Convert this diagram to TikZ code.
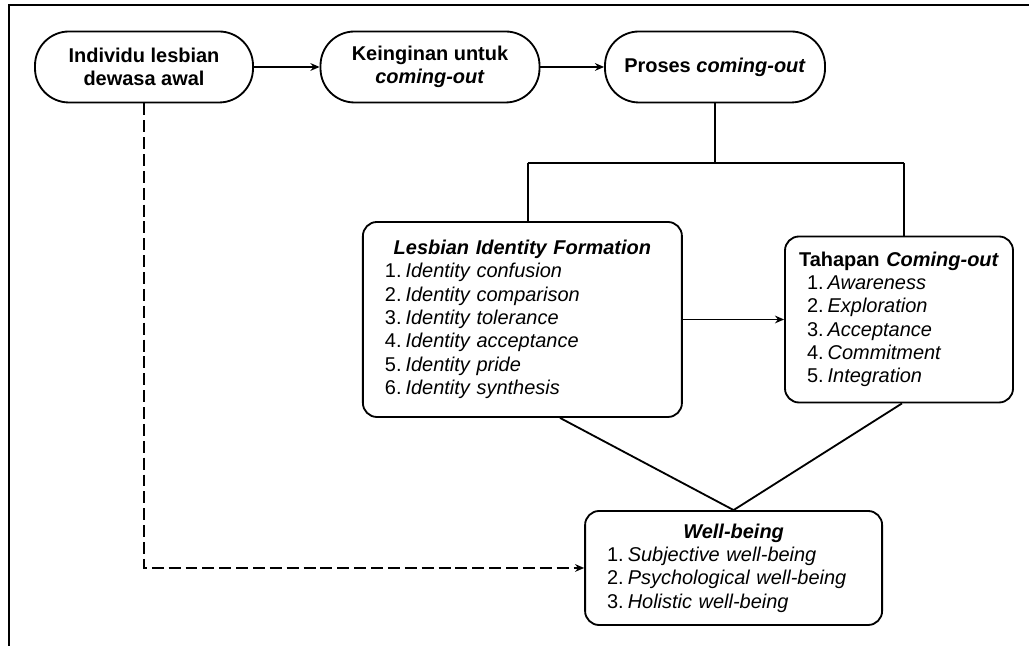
\documentclass[tikz,border=0pt]{standalone}
\usepackage{fontspec}
\setmainfont{Liberation Sans}
\usetikzlibrary{arrows.meta,positioning,calc}

\tikzset{
  pill/.style={draw, line width=1.3pt, rounded corners=0.85cm, minimum width=5.45cm,
    minimum height=1.775cm, align=center, font=\fontsize{14.2}{16.6}\selectfont\bfseries},
  listbox/.style={draw, line width=1.3pt, rounded corners=0.35cm, inner xsep=0.55cm,
    align=left, font=\fontsize{14.2}{16.6}\selectfont},
  arr/.style={line width=1.3pt, -{Stealth[length=6.5pt,width=5.5pt]}},
  link/.style={line width=1.3pt},
}
\newcommand{\stage}[2]{#1.\hspace{0.2em}\textit{#2}}
\newcommand{\boxtitle}[1]{\makebox[\linewidth]{\bfseries #1}\par}

\begin{document}
\begin{tikzpicture}
        \useasboundingbox (0,0) rectangle (25.725,16.15);
        % frame
        \draw[line width=2pt] (0.225,0) -- (0.225,16.025) -- (25.725,16.025);

        % top row
        \node[pill] (indiv) at (3.6,14.475) {Individu lesbian\\dewasa awal};
        \node[pill, minimum width=5.475cm] (keinginan) at (10.75,14.475) {Keinginan untuk\\\textit{coming-out}};
        \node[pill, minimum width=5.5cm] (proses) at (17.875,14.475) {Proses \textit{coming-out}};

        % stage boxes
        \node[listbox, text width=6.875cm, minimum height=4.875cm] (lif) at (13.06,8.1625) {%
          \boxtitle{\textit{Lesbian Identity Formation}}
          \stage{1}{Identity confusion}\\
          \stage{2}{Identity comparison}\\
          \stage{3}{Identity tolerance}\\
          \stage{4}{Identity acceptance}\\
          \stage{5}{Identity pride}\\
          \stage{6}{Identity synthesis}};
        \node[listbox, text width=4.6cm, minimum height=4.15cm] (tco) at (22.475,8.1625) {%
          \boxtitle{Tahapan \textit{Coming-out}}
          \stage{1}{Awareness}\\
          \stage{2}{Exploration}\\
          \stage{3}{Acceptance}\\
          \stage{4}{Commitment}\\
          \stage{5}{Integration}};
        \node[listbox, text width=6.325cm, minimum height=2.85cm] (wb) at (18.34,1.95) {%
          \boxtitle{\textit{Well-being}}
          \stage{1}{Subjective well-being}\\
          \stage{2}{Psychological well-being}\\
          \stage{3}{Holistic well-being}};

        % branch points
        \coordinate (J) at (17.875,12.08);
        \coordinate (JL) at (13.19,12.08);
        \coordinate (JR) at (22.6,12.08);

        % connectors
        \draw[arr] (indiv) -- (keinginan);
        \draw[arr] (keinginan) -- (proses);
        \draw[link] (proses.south) -- (J);
        \draw[link] (JL) -- (JR);
        \draw[link] (JL) -- (JL |- lif.north);
        \draw[link] (JR) -- (JR |- tco.north);
        \draw[arr] (lif) -- (tco);
        \draw[link] ([xshift=0.94cm]lif.south) -- (wb.north);
        \draw[link] ([xshift=0.075cm]tco.south) -- (wb.north);
        \draw[arr, dash pattern=on 8.5pt off 3.5pt] (indiv.south) |- (wb.west);
    \end{tikzpicture}
\end{document}
